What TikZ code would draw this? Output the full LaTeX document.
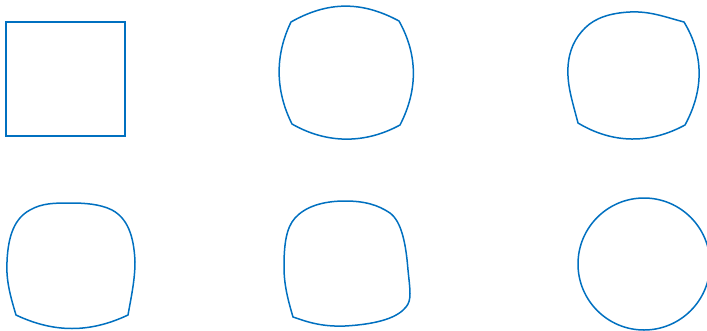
\documentclass[tikz,border=0pt]{standalone}
\usepackage{tikz}
\definecolor{MorphBlue}{HTML}{0070C0}

\begin{document}
\begin{tikzpicture}[x=1pt,y=-1pt]
\tikzset{
  outline/.style={draw=MorphBlue,line width=1.5pt,line join=miter}
}
\useasboundingbox (0,0) rectangle (707,330);

% square
\draw[outline] (6,22) rectangle (125,136);

% four bulging edges
\draw[outline] (291,22) .. controls (328,1) and (362,1) .. (399,21)
  .. controls (418,55) and (418,90) .. (400,125)
  .. controls (365,144) and (327,144) .. (292,124)
  .. controls (275,90) and (275,55) .. cycle;

% one rounded corner
\draw[outline] (578,123) .. controls (572,100) and (567,85) .. (568,67)
  .. controls (569,50) and (575,38) .. (585,28)
  .. controls (595,18) and (610,13) .. (630,12)
  .. controls (650,11) and (665,17) .. (684,22)
  .. controls (704,55) and (704,90) .. (685,125)
  .. controls (650,144) and (613,144) .. cycle;

% two rounded corners
\draw[outline] (16,315) .. controls (10,295) and (6,280) .. (7,262)
  .. controls (8,235) and (15,218) .. (30,210)
  .. controls (42,203) and (55,203) .. (70,203)
  .. controls (85,203) and (100,204) .. (112,210)
  .. controls (127,218) and (134,235) .. (135,262)
  .. controls (135,280) and (131,298) .. (128,315)
  .. controls (90,333) and (54,333) .. cycle;

% three rounded corners
\draw[outline] (293,317) .. controls (288,300) and (284,285) .. (284,267)
  .. controls (284,245) and (286,228) .. (295,218)
  .. controls (305,207) and (322,201) .. (345,201)
  .. controls (365,201) and (378,205) .. (390,213)
  .. controls (402,222) and (406,245) .. (408,270)
  .. controls (410,290) and (412,300) .. (406,307)
  .. controls (398,317) and (380,324) .. (345,326)
  .. controls (320,327) and (305,321) .. cycle;

% circle
\draw[outline] (644,264) circle[radius=66];
\end{tikzpicture}
\end{document}
